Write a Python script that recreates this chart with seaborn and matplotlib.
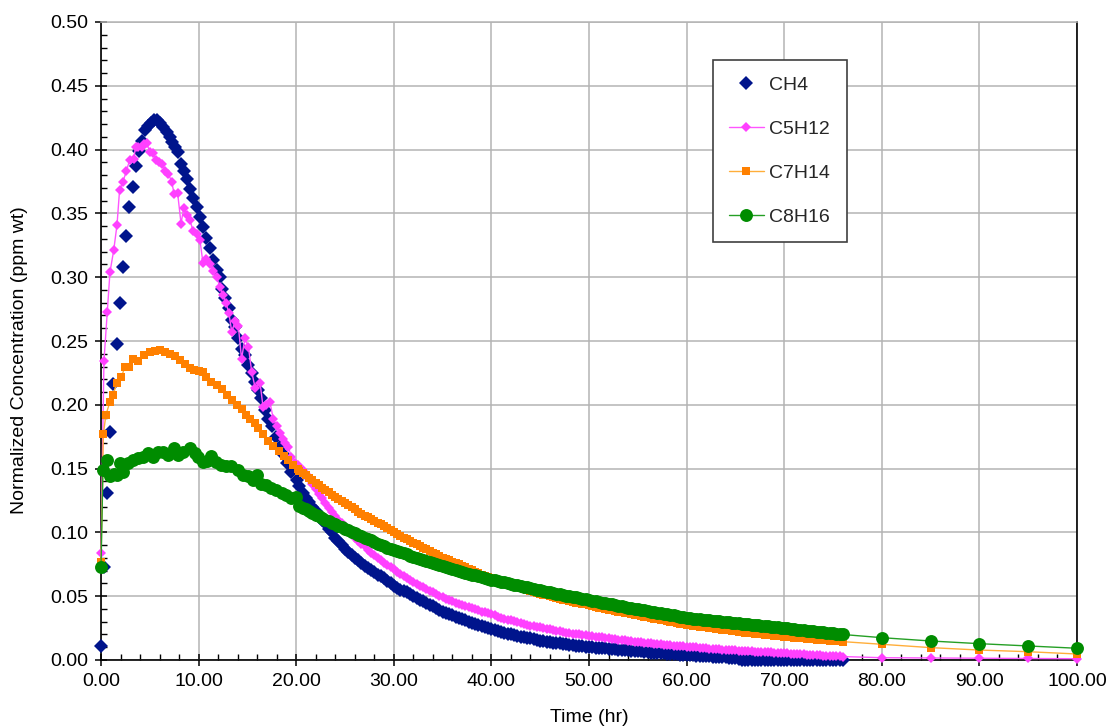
import matplotlib
matplotlib.use("Agg")
import pandas as pd
import matplotlib.pyplot as plt
import seaborn as sns
from matplotlib.lines import Line2D
from matplotlib.ticker import MultipleLocator, FormatStrFormatter

# ---- values ----
# first 20 h: the measured (noisy) points
ch4_t_early = [0.0, 0.33, 0.65, 0.95, 1.27,
               1.6, 1.9, 2.25, 2.58, 2.9,
               3.25, 3.58, 3.9, 4.22, 4.55,
               4.85, 5.12, 5.46, 5.7, 6.05,
               6.38, 6.73, 7.07, 7.3, 7.58,
               7.85, 8.2, 8.47, 8.8, 9.15,
               9.46, 9.87, 10.17, 10.45, 10.79,
               11.17, 11.5, 11.85, 12.2, 12.4,
               12.7, 13.15, 13.4, 13.7, 14.07,
               14.4, 14.75, 15.1, 15.44, 15.8,
               16.1, 16.36, 16.8, 17.1, 17.5,
               17.9, 18.3, 18.7, 19.1, 19.5,
               20.05]
ch4_early = [0.011, 0.073, 0.131, 0.179, 0.216,
             0.248, 0.280, 0.308, 0.332, 0.355,
             0.371, 0.387, 0.399, 0.407, 0.415,
             0.4185, 0.421, 0.423, 0.4235, 0.421,
             0.418, 0.414, 0.410, 0.406, 0.402,
             0.398, 0.389, 0.383, 0.377, 0.369,
             0.362, 0.355, 0.347, 0.339, 0.331,
             0.3225, 0.3135, 0.3056, 0.300, 0.291,
             0.2834, 0.2756, 0.2665, 0.261, 0.252,
             0.244, 0.239, 0.231, 0.2247, 0.218,
             0.2116, 0.205, 0.196, 0.189, 0.183,
             0.175, 0.167, 0.161, 0.154, 0.1476,
             0.141]

c5h12_t_early = [0.0, 0.3, 0.65, 0.92, 1.3,
                 1.64, 1.9, 2.25, 2.6, 2.94,
                 3.35, 3.55, 3.8, 4.17, 4.44,
                 4.7, 5.0, 5.3, 5.6, 5.94,
                 6.3, 6.6, 6.9, 7.24, 7.5,
                 7.85, 8.2, 8.47, 8.8, 9.1,
                 9.45, 9.8, 10.14, 10.45, 10.8,
                 11.15, 11.5, 11.85, 12.2, 12.5,
                 12.8, 13.1, 13.4, 13.75, 14.07,
                 14.4, 14.75, 15.1, 15.44, 15.8,
                 16.3, 16.6, 16.95, 17.3, 17.65,
                 18.0, 18.3, 18.6, 18.85, 19.2,
                 19.5, 19.9, 20.2]
c5h12_early = [0.084, 0.234, 0.273, 0.304, 0.321,
               0.341, 0.368, 0.375, 0.383, 0.392,
               0.393, 0.402, 0.402, 0.402, 0.404,
               0.405, 0.398, 0.397, 0.392, 0.390,
               0.389, 0.383, 0.381, 0.375, 0.365,
               0.366, 0.342, 0.354, 0.349, 0.345,
               0.336, 0.334, 0.329, 0.311, 0.314,
               0.310, 0.305, 0.300, 0.292, 0.286,
               0.280, 0.272, 0.257, 0.266, 0.262,
               0.236, 0.252, 0.2455, 0.226, 0.213,
               0.217, 0.1985, 0.200, 0.2025, 0.189,
               0.183, 0.178, 0.173, 0.170, 0.167,
               0.159, 0.154, 0.153]

c7h14_t_early = [0.0, 0.24, 0.5, 0.92, 1.26,
                 1.6, 2.1, 2.46, 2.9, 3.25,
                 3.82, 4.4, 5.0, 5.53, 6.05,
                 6.56, 7.07, 7.6, 8.1, 8.6,
                 9.1, 9.55, 10.0, 10.4, 10.8,
                 11.3, 11.85, 12.37, 12.9, 13.4,
                 13.9, 14.4, 14.85, 15.27, 15.8,
                 16.1, 16.6, 17.1, 17.65, 18.2,
                 18.7, 19.2, 19.7, 20.2]
c7h14_early = [0.077, 0.177, 0.192, 0.2025, 0.208,
               0.217, 0.222, 0.230, 0.230, 0.2356,
               0.234, 0.239, 0.2416, 0.242, 0.243,
               0.2416, 0.2396, 0.238, 0.235, 0.232,
               0.229, 0.2275, 0.2268, 0.226, 0.222,
               0.218, 0.2155, 0.212, 0.2077, 0.2035,
               0.1998, 0.1965, 0.192, 0.189, 0.1855,
               0.1816, 0.1775, 0.172, 0.168, 0.164,
               0.160, 0.157, 0.153, 0.150]

c8h16_t_early = [0.0, 0.2, 0.58, 0.95, 1.3,
                 1.6, 1.9, 2.25, 2.77, 3.3,
                 3.8, 4.3, 4.8, 5.3, 5.85,
                 6.35, 6.9, 7.5, 7.9, 8.4,
                 9.1, 9.6, 9.95, 10.45, 10.9,
                 11.3, 11.8, 12.3, 12.8, 13.35,
                 14.0, 14.5, 15.1, 15.6, 16.0,
                 16.4, 16.9, 17.45, 17.95, 18.5,
                 19.0, 19.5, 20.0]
c8h16_early = [0.073, 0.149, 0.157, 0.144, 0.146,
               0.145, 0.154, 0.147, 0.154, 0.157,
               0.158, 0.159, 0.162, 0.159, 0.163,
               0.163, 0.161, 0.166, 0.161, 0.163,
               0.166, 0.162, 0.159, 0.155, 0.156,
               0.160, 0.155, 0.153, 0.152, 0.152,
               0.149, 0.145, 0.144, 0.141, 0.145,
               0.138, 0.137, 0.135, 0.133, 0.131,
               0.129, 0.127, 0.128]

# 20.33 - 76 h: every 20 minutes, one row per hour
t_late = [20.33, 20.67, 21.0, 21.33, 21.67, 22.0, 22.33, 22.67, 23.0, 23.33, 23.67, 24.0,
          24.33, 24.67, 25.0, 25.33, 25.67, 26.0, 26.33, 26.67, 27.0, 27.33, 27.67, 28.0,
          28.33, 28.67, 29.0, 29.33, 29.67, 30.0, 30.33, 30.67, 31.0, 31.33, 31.67, 32.0,
          32.33, 32.67, 33.0, 33.33, 33.67, 34.0, 34.33, 34.67, 35.0, 35.33, 35.67, 36.0,
          36.33, 36.67, 37.0, 37.33, 37.67, 38.0, 38.33, 38.67, 39.0, 39.33, 39.67, 40.0,
          40.33, 40.67, 41.0, 41.33, 41.67, 42.0, 42.33, 42.67, 43.0, 43.33, 43.67, 44.0,
          44.33, 44.67, 45.0, 45.33, 45.67, 46.0, 46.33, 46.67, 47.0, 47.33, 47.67, 48.0,
          48.33, 48.67, 49.0, 49.33, 49.67, 50.0, 50.33, 50.67, 51.0, 51.33, 51.67, 52.0,
          52.33, 52.67, 53.0, 53.33, 53.67, 54.0, 54.33, 54.67, 55.0, 55.33, 55.67, 56.0,
          56.33, 56.67, 57.0, 57.33, 57.67, 58.0, 58.33, 58.67, 59.0, 59.33, 59.67, 60.0,
          60.33, 60.67, 61.0, 61.33, 61.67, 62.0, 62.33, 62.67, 63.0, 63.33, 63.67, 64.0,
          64.33, 64.67, 65.0, 65.33, 65.67, 66.0, 66.33, 66.67, 67.0, 67.33, 67.67, 68.0,
          68.33, 68.67, 69.0, 69.33, 69.67, 70.0, 70.33, 70.67, 71.0, 71.33, 71.67, 72.0,
          72.33, 72.67, 73.0, 73.33, 73.67, 74.0, 74.33, 74.67, 75.0, 75.33, 75.67, 76.0]
ch4_late = [0.136, 0.131, 0.127, 0.124, 0.120, 0.117, 0.114, 0.110, 0.107, 0.103, 0.100, 0.096,
            0.093, 0.090, 0.087, 0.085, 0.082, 0.080, 0.078, 0.076, 0.074, 0.072, 0.0705, 0.069,
            0.067, 0.0655, 0.064, 0.062, 0.060, 0.058, 0.0565, 0.055, 0.054, 0.0535, 0.052, 0.050,
            0.0485, 0.047, 0.046, 0.0445, 0.043, 0.042, 0.0405, 0.039, 0.038, 0.037, 0.036, 0.035,
            0.034, 0.033, 0.032, 0.031, 0.030, 0.029, 0.0283, 0.0277, 0.027, 0.026, 0.025, 0.024,
            0.0233, 0.0227, 0.022, 0.0213, 0.0207, 0.020, 0.0193, 0.0187, 0.018, 0.0177, 0.0173, 0.017,
            0.0163, 0.0157, 0.015, 0.0147, 0.0143, 0.014, 0.0137, 0.0133, 0.013, 0.0127, 0.0123, 0.012,
            0.0117, 0.0113, 0.011, 0.0107, 0.0103, 0.010, 0.0098, 0.0097, 0.0095, 0.0093, 0.0092, 0.009,
            0.0087, 0.0083, 0.008, 0.0078, 0.0077, 0.0075, 0.0073, 0.0072, 0.007, 0.0067, 0.0063, 0.006,
            0.0058, 0.0057, 0.0055, 0.0053, 0.0052, 0.005, 0.0048, 0.0047, 0.0045, 0.0043, 0.0042, 0.004,
            0.0038, 0.0037, 0.0035, 0.0033, 0.0032, 0.003, 0.0028, 0.0027, 0.0025, 0.0023, 0.0022, 0.002,
            0.0017, 0.0015, 0.0012, 0.0006, 0.0, 0.0, 0.0, 0.0, 0.0, 0.0, 0.0, 0.0,
            0.0, 0.0, 0.0, 0.0, 0.0, 0.0, 0.0, 0.0, 0.0, 0.0, 0.0, 0.0,
            0.0, 0.0, 0.0, 0.0, 0.0, 0.0, 0.0, 0.0, 0.0, 0.0, 0.0, 0.0]
c5h12_late = [0.151, 0.149, 0.146, 0.142, 0.138, 0.134, 0.130, 0.127, 0.123, 0.1195, 0.116, 0.113,
              0.110, 0.107, 0.104, 0.101, 0.0985, 0.096, 0.0935, 0.091, 0.089, 0.0865, 0.084, 0.082,
              0.080, 0.078, 0.076, 0.0743, 0.0727, 0.071, 0.0693, 0.0677, 0.066, 0.0643, 0.0627, 0.061,
              0.0597, 0.0583, 0.057, 0.0557, 0.0543, 0.053, 0.0517, 0.0503, 0.049, 0.048, 0.047, 0.046,
              0.045, 0.044, 0.043, 0.0423, 0.0417, 0.041, 0.040, 0.039, 0.038, 0.0373, 0.0367, 0.036,
              0.035, 0.034, 0.033, 0.0323, 0.0317, 0.031, 0.0303, 0.0297, 0.029, 0.0283, 0.0277, 0.027,
              0.0265, 0.026, 0.0255, 0.025, 0.0245, 0.024, 0.0235, 0.023, 0.0225, 0.022, 0.0215, 0.021,
              0.0207, 0.0203, 0.020, 0.0197, 0.0195, 0.0192, 0.0188, 0.0184, 0.018, 0.0177, 0.0173, 0.017,
              0.0167, 0.0163, 0.016, 0.0157, 0.0153, 0.015, 0.0147, 0.0144, 0.0141, 0.0138, 0.0136, 0.0133,
              0.013, 0.0128, 0.0125, 0.0123, 0.012, 0.0118, 0.0116, 0.0113, 0.0111, 0.0109, 0.0106, 0.0104,
              0.0102, 0.010, 0.0098, 0.0096, 0.0094, 0.0092, 0.009, 0.0088, 0.0086, 0.0084, 0.0082, 0.008,
              0.0079, 0.0077, 0.0076, 0.0074, 0.0073, 0.0071, 0.0069, 0.0068, 0.0066, 0.0065, 0.0063, 0.0062,
              0.006, 0.0059, 0.0057, 0.0056, 0.0054, 0.0053, 0.0052, 0.005, 0.0049, 0.0047, 0.0046, 0.0044,
              0.0043, 0.0041, 0.004, 0.0038, 0.0037, 0.0035, 0.0034, 0.0032, 0.0031, 0.003, 0.0028, 0.0027]
c7h14_late = [0.148, 0.1465, 0.145, 0.143, 0.141, 0.139, 0.137, 0.135, 0.133, 0.1313, 0.1297, 0.128,
              0.1263, 0.1247, 0.123, 0.1213, 0.1197, 0.118, 0.1163, 0.1147, 0.113, 0.1117, 0.1103, 0.109,
              0.1077, 0.1063, 0.105, 0.1033, 0.1017, 0.100, 0.0987, 0.0973, 0.096, 0.0947, 0.0933, 0.092,
              0.0907, 0.0893, 0.088, 0.0867, 0.0853, 0.084, 0.0827, 0.0813, 0.080, 0.079, 0.078, 0.077,
              0.076, 0.075, 0.074, 0.0728, 0.0717, 0.0705, 0.0693, 0.0682, 0.067, 0.066, 0.065, 0.064,
              0.0632, 0.0623, 0.0615, 0.0607, 0.0598, 0.059, 0.0582, 0.0573, 0.0565, 0.0557, 0.0548, 0.054,
              0.0533, 0.0527, 0.052, 0.0513, 0.0507, 0.050, 0.0493, 0.0487, 0.048, 0.0473, 0.0467, 0.046,
              0.0455, 0.045, 0.0445, 0.044, 0.0435, 0.043, 0.0423, 0.0417, 0.041, 0.0405, 0.040, 0.0395,
              0.039, 0.0385, 0.038, 0.0375, 0.037, 0.0365, 0.036, 0.0355, 0.035, 0.0345, 0.034, 0.0335,
              0.033, 0.0325, 0.032, 0.0315, 0.031, 0.0305, 0.030, 0.0295, 0.029, 0.0285, 0.028, 0.0275,
              0.0272, 0.0268, 0.0265, 0.0262, 0.0258, 0.0255, 0.0252, 0.0248, 0.0245, 0.0242, 0.0238, 0.0235,
              0.0232, 0.0228, 0.0225, 0.0222, 0.0218, 0.0215, 0.0212, 0.021, 0.0207, 0.0204, 0.0202, 0.0199,
              0.0196, 0.0194, 0.0191, 0.0188, 0.0186, 0.0183, 0.0181, 0.0178, 0.0176, 0.0174, 0.0171, 0.0169,
              0.0167, 0.0164, 0.0162, 0.016, 0.0158, 0.0156, 0.0154, 0.0152, 0.015, 0.0148, 0.0146, 0.0144]
c8h16_late = [0.121, 0.1195, 0.118, 0.1167, 0.1153, 0.114, 0.1127, 0.1113, 0.110, 0.1088, 0.1077, 0.1065,
              0.1053, 0.1042, 0.103, 0.1018, 0.1007, 0.0995, 0.0983, 0.0972, 0.096, 0.0948, 0.0937, 0.0925,
              0.0913, 0.0902, 0.089, 0.088, 0.087, 0.086, 0.0852, 0.0843, 0.0835, 0.0827, 0.0818, 0.081,
              0.0802, 0.0793, 0.0785, 0.0777, 0.0768, 0.076, 0.0752, 0.0743, 0.0735, 0.0727, 0.0718, 0.071,
              0.0703, 0.0697, 0.069, 0.0683, 0.0677, 0.067, 0.0663, 0.0657, 0.065, 0.0643, 0.0637, 0.063,
              0.0624, 0.0619, 0.0613, 0.0608, 0.0602, 0.0597, 0.0591, 0.0586, 0.058, 0.0574, 0.0569, 0.0563,
              0.0558, 0.0552, 0.0547, 0.0541, 0.0536, 0.053, 0.0525, 0.052, 0.0515, 0.051, 0.0505, 0.050,
              0.0495, 0.049, 0.0485, 0.048, 0.0475, 0.047, 0.0465, 0.046, 0.0455, 0.045, 0.0445, 0.044,
              0.0435, 0.043, 0.0425, 0.042, 0.0415, 0.041, 0.0406, 0.0401, 0.0397, 0.0393, 0.0388, 0.0384,
              0.038, 0.0375, 0.0371, 0.0367, 0.0362, 0.0358, 0.0353, 0.0349, 0.0344, 0.0339, 0.0335, 0.033,
              0.0327, 0.0325, 0.0322, 0.0319, 0.0317, 0.0314, 0.0311, 0.0309, 0.0306, 0.0303, 0.0301, 0.0298,
              0.0295, 0.0293, 0.029, 0.0287, 0.0285, 0.0282, 0.0279, 0.0277, 0.0274, 0.0271, 0.0269, 0.0266,
              0.0263, 0.0261, 0.0258, 0.0255, 0.0253, 0.025, 0.0247, 0.0245, 0.0242, 0.0239, 0.0236, 0.0233,
              0.023, 0.0228, 0.0225, 0.0222, 0.022, 0.0217, 0.0214, 0.0211, 0.0208, 0.0205, 0.0203, 0.020]

# sparse points after 76 h (no CH4 here)
t_tail = [80.0, 85.0, 90.0, 95.0, 100.0]
c5h12_tail = [0.0018, 0.0016, 0.0014, 0.0012, 0.0010]
c7h14_tail = [0.0123, 0.0097, 0.0078, 0.0065, 0.0047]
c8h16_tail = [0.0175, 0.0149, 0.0128, 0.0110, 0.0092]

frames = [
    pd.DataFrame({"time": ch4_t_early + t_late, "conc": ch4_early + ch4_late, "species": "CH4"}),
    pd.DataFrame({"time": c5h12_t_early + t_late + t_tail,
                  "conc": c5h12_early + c5h12_late + c5h12_tail, "species": "C5H12"}),
    pd.DataFrame({"time": c7h14_t_early + t_late + t_tail,
                  "conc": c7h14_early + c7h14_late + c7h14_tail, "species": "C7H14"}),
    pd.DataFrame({"time": c8h16_t_early + t_late + t_tail,
                  "conc": c8h16_early + c8h16_late + c8h16_tail, "species": "C8H16"}),
]
df = pd.concat(frames, ignore_index=True)

# species -> (marker, size, marker colour, line colour, line style)
styles = {
    "CH4": ("D", 7.0, "#00148c", "#00148c", "none"),
    "C5H12": ("D", 4.8, "#ff40ff", "#ff55ff", "-"),
    "C7H14": ("s", 6.3, "#ff8000", "#ffae3a", "-"),
    "C8H16": ("o", 9.3, "#008c00", "#259f25", "-"),
}

sns.set_theme(style="ticks")
plt.rcParams["font.family"] = ["Liberation Sans", "DejaVu Sans"]

fig, ax = plt.subplots(figsize=(11.09, 7.27), dpi=100)
fig.subplots_adjust(left=101 / 1109, right=1077 / 1109, bottom=67 / 727, top=705 / 727)

handles = []
for name, (mk, ms, mcol, lcol, ls) in styles.items():
    sub = df[df["species"] == name]
    sns.lineplot(data=sub, x="time", y="conc", ax=ax, estimator=None, sort=False,
                 color=lcol, linestyle=ls, linewidth=1.0, marker=mk, markersize=ms,
                 markerfacecolor=mcol, markeredgecolor=mcol, markeredgewidth=0,
                 clip_on=False, zorder=3)
    handles.append(Line2D([], [], color=lcol, linestyle=ls, linewidth=1.0, marker=mk,
                          markersize=ms, markerfacecolor=mcol, markeredgecolor=mcol,
                          markeredgewidth=0, label=name))

ax.set_xlim(0, 100)
ax.set_ylim(0, 0.5)
ax.xaxis.set_major_locator(MultipleLocator(10))
ax.xaxis.set_minor_locator(MultipleLocator(2))
ax.yaxis.set_major_locator(MultipleLocator(0.05))
ax.yaxis.set_minor_locator(MultipleLocator(0.01))
ax.xaxis.set_major_formatter(FormatStrFormatter("%.2f"))
ax.yaxis.set_major_formatter(FormatStrFormatter("%.2f"))

ax.grid(True, which="major", color="#b4b4b4", linewidth=1.1)
ax.tick_params(which="major", direction="inout", length=8, width=1.1, color="black",
               labelsize=14, labelcolor="black", bottom=True, left=True, pad=5)
ax.tick_params(which="minor", direction="in", length=4, width=1.0, color="black",
               bottom=True, left=True)

for side in ["left", "bottom", "right"]:
    ax.spines[side].set_color("black")
    ax.spines[side].set_linewidth(1.2)
ax.spines["top"].set_color("#b4b4b4")
ax.spines["top"].set_linewidth(1.1)

ax.set_xlabel("Time (hr)", fontsize=14, color="black")
ax.xaxis.set_label_coords(0.5, -0.0895)
ax.xaxis.label.set_va("center")
ax.set_ylabel("Normalized Concentration (ppm wt)", fontsize=14, color="black")
ax.yaxis.set_label_coords(-0.083, 0.47)
ax.yaxis.label.set_va("center")

leg = ax.legend(handles=handles, loc="upper left", bbox_to_anchor=(0.627, 0.9404),
                borderaxespad=0, fontsize=14, frameon=True, fancybox=False,
                edgecolor="#404040", framealpha=1, labelspacing=1.35,
                handlelength=1.75, handletextpad=0.3, borderpad=0.85)
leg.get_frame().set_linewidth(1.2)

fig.savefig("out.png", dpi=100)
